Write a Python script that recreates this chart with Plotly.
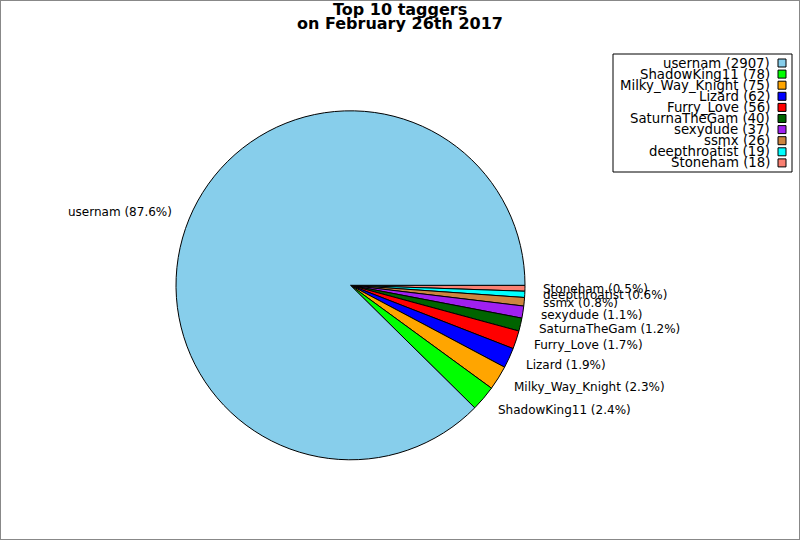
import math
import plotly.graph_objects as go

# Top 10 taggers, counts per user
names = ["usernam", "ShadowKing11", "Milky_Way_Knight", "Lizard", "Furry_Love",
         "SaturnaTheGam", "sexydude", "ssmx", "deepthroatist", "Stoneham"]
counts = [2907, 78, 75, 62, 56, 40, 37, 26, 19, 18]
colors = ["#87CEEB", "#00FF00", "#FFA500", "#0000FF", "#FF0000",
          "#006400", "#A020F0", "#CD853F", "#00FFFF", "#FA8072"]

W, H = 800, 540
cx, cy, r = 350.5, 285.3, 174.5   # pie centre / radius in pixels (from top)
FONT = "DejaVu Sans"


def px(x, y):
    # pixel (from top-left) -> paper coords
    return x / W, 1 - y / H


def main():
    total = sum(counts)

    # matplotlib-style: first slice starts at 3 o'clock going counterclockwise,
    # which is the same as the reversed list going clockwise from 3 o'clock
    fig = go.Figure(go.Pie(
        labels=names[::-1],
        values=counts[::-1],
        sort=False,
        direction="clockwise",
        rotation=90,
        marker=dict(colors=colors[::-1], line=dict(color="black", width=1)),
        textinfo="none",
        hoverinfo="label+value+percent",
        domain=dict(x=[(cx - r) / W, (cx + r) / W],
                    y=[1 - (cy + r) / H, 1 - (cy - r) / H]),
        showlegend=False,
    ))

    annotations = []
    # slice labels at 1.1 * radius on each slice's mid angle
    cum = 0
    for name, c in zip(names, counts):
        mid = 2 * math.pi * (cum + c / 2) / total
        cum += c
        x = cx + 1.1 * r * math.cos(mid)
        y = cy - 1.1 * r * math.sin(mid)
        xp, yp = px(x, y)
        annotations.append(dict(
            x=xp, y=yp, xref="paper", yref="paper", showarrow=False,
            text=f"{name} ({100 * c / total:.1f}%)",
            xanchor="left" if math.cos(mid) >= 0 else "right", yanchor="middle",
            font=dict(family=FONT, size=12, color="black"), borderpad=0,
        ))

    # title, two tight lines
    for i, line in enumerate(["Top 10 taggers", "on February 26th 2017"]):
        xp, yp = px(400, 10 + 14 * i)
        annotations.append(dict(
            x=xp, y=yp, xref="paper", yref="paper", showarrow=False,
            text=f"<b>{line}</b>", xanchor="center", yanchor="middle",
            font=dict(family=FONT, size=16, color="black"), borderpad=0,
        ))

    # hand-made legend: text right-aligned, swatch on the right
    shapes = []
    x0, y0 = px(613, 172)
    x1, y1 = px(792, 54)
    shapes.append(dict(type="rect", xref="paper", yref="paper",
                       x0=x0, y0=y0, x1=x1, y1=y1,
                       line=dict(color="black", width=1), fillcolor="white"))
    for i, (name, c, col) in enumerate(zip(names, counts, colors)):
        yc = 63 + 11.1 * i
        xp, yp = px(771, yc)
        annotations.append(dict(
            x=xp, y=yp, xref="paper", yref="paper", showarrow=False,
            text=f"{name} ({c})", xanchor="right", yanchor="middle",
            font=dict(family=FONT, size=13.3, color="black"), borderpad=0,
        ))
        sx0, sy0 = px(778, yc + 4)
        sx1, sy1 = px(786, yc - 4)
        shapes.append(dict(type="rect", xref="paper", yref="paper",
                           x0=sx0, y0=sy0, x1=sx1, y1=sy1,
                           line=dict(color="black", width=1), fillcolor=col))

    # grey frame round the figure
    shapes.append(dict(type="rect", xref="paper", yref="paper",
                       x0=0, y0=0, x1=1, y1=1,
                       line=dict(color="#888888", width=2)))

    fig.update_layout(
        width=W, height=H,
        margin=dict(l=0, r=0, t=0, b=0),
        paper_bgcolor="white", plot_bgcolor="white",
        annotations=annotations, shapes=shapes,
        font=dict(family=FONT),
    )
    fig.write_html("out.html", config={"displayModeBar": False},
                   post_script="document.body.style.margin='0';")


if __name__ == "__main__":
    main()
